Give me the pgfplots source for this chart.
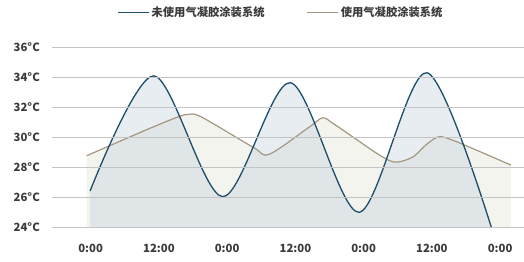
\documentclass[border=0pt]{standalone}
\usepackage{fontspec}
\setmainfont{Noto Sans CJK SC}
\usepackage{pgfplots}
\usepackage{pgfplotstable}
\pgfplotsset{compat=1.18}
\definecolor{blueline}{HTML}{1D4E6B}
\definecolor{brownline}{HTML}{A39781}
\definecolor{beigefill}{HTML}{F4F4EE}
\definecolor{bluefill}{HTML}{C9D7E0}
\definecolor{gridc}{HTML}{C4C4C4}
\definecolor{txt}{HTML}{3A3A3A}
\pgfplotstableread{
h T
-0.1 26.42
11.1 34.1
23.2 26.04
35.1 33.64
47.2 25.0
59.2 34.3
71.6 22.6
}\blue
\pgfplotstableread{
h T
-0.7 28.77
9.8 30.5
15.3 31.35
17.2 31.53
19.5 31.35
28.6 29.33
31.4 28.87
38.5 30.7
40.8 31.3
42.6 30.93
46.2 30.0
50.3 28.93
52.6 28.44
54.1 28.35
56.7 28.7
59.3 29.6
61.3 30.04
63.7 29.8
67.8 29.15
73.9 28.15
}\brown
\begin{document}
\begin{tikzpicture}
\useasboundingbox (0,0) rectangle (524bp,262bp);
\begin{axis}[
  at={(52bp,34.7bp)}, anchor=south west,
  scale only axis, width=472bp, height=180bp,
  xmin=-6.8, xmax=76.2, ymin=24, ymax=36,
  xtick={0,12,24,36,48,60,72},
  xticklabels={0:00,12:00,0:00,12:00,0:00,12:00,0:00},
  ytick={24,26,28,30,32,34,36},
  yticklabels={24°C,26°C,28°C,30°C,32°C,34°C,36°C},
  ymajorgrids, grid style={gridc, line width=0.8bp},
  axis line style={draw=none},
  major tick length=0pt,
  axis on top,
  tick label style={font=\fontsize{11.3bp}{13bp}\selectfont\bfseries, text=txt},
  yticklabel style={anchor=east, inner sep=0pt, xshift=-12bp},
  xticklabel style={anchor=north, inner sep=0pt, yshift=-17bp},
  legend columns=2,
  reverse legend,
  legend style={at={(0.485,1)}, anchor=center, yshift=35bp, draw=none, fill=none,
    font=\fontsize{11.3bp}{13bp}\selectfont\bfseries, text=txt,
    /tikz/every even column/.append style={column sep=40bp}},
  legend image code/.code={\draw[#1] (0bp,0bp) -- (31bp,0bp);},
]
\addplot[draw=none, fill=beigefill, smooth, forget plot] table {\brown} \closedcycle;
\addplot[draw=none, fill=bluefill, fill opacity=0.45, smooth, forget plot] table {\blue} \closedcycle;
\addplot[brownline, line width=1.2bp, smooth] table {\brown};
\addlegendentry{使用气凝胶涂装系统}
\addplot[blueline, line width=1.3bp, smooth] table {\blue};
\addlegendentry{未使用气凝胶涂装系统}
\end{axis}
\end{tikzpicture}
\end{document}
